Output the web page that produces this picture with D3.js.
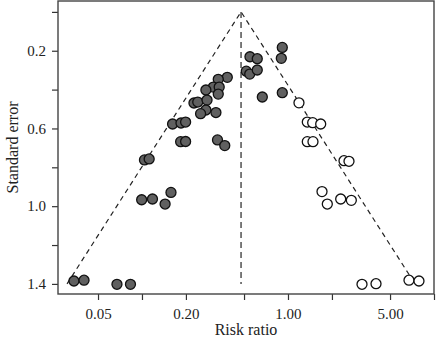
<!DOCTYPE html>
<html>
<head>
<meta charset="utf-8">
<script src="https://cdn.jsdelivr.net/npm/d3@7"></script>
<style>
  body { margin: 0; background: #fff; }
  text { font-family: "Liberation Serif", "DejaVu Serif", serif; fill: #222; }
</style>
</head>
<body>
<svg id="chart"></svg>
<script>
// observed studies (filled) - risk ratio and standard error
const observedRR = [0.914, 0.900, 0.549, 0.616, 0.518, 0.547, 0.616, 0.384, 0.333, 0.308,
  0.338, 0.274, 0.333, 0.227, 0.241, 0.279, 0.274, 0.252, 0.321, 0.162,
  0.185, 0.199, 0.184, 0.199, 0.329, 0.369, 0.104, 0.112, 0.0995, 0.118,
  0.144, 0.158, 0.0342, 0.0401, 0.0674, 0.0834, 0.667, 0.914];
const observedSE = [0.183, 0.239, 0.231, 0.241, 0.305, 0.320, 0.299, 0.337, 0.347, 0.387,
  0.387, 0.402, 0.423, 0.469, 0.464, 0.454, 0.505, 0.524, 0.518, 0.577,
  0.572, 0.567, 0.668, 0.667, 0.659, 0.688, 0.762, 0.757, 0.967, 0.963,
  0.989, 0.929, 1.385, 1.381, 1.402, 1.402, 0.438, 0.416];

// imputed studies (open)
const imputedRR = [1.189, 1.356, 1.476, 1.675, 1.356, 1.483, 2.419, 2.617, 1.710, 1.859,
  2.296, 2.715, 3.213, 4.007, 6.74, 7.89];
const imputedSE = [0.468, 0.567, 0.570, 0.577, 0.668, 0.668, 0.766, 0.769, 0.925, 0.989,
  0.963, 0.970, 1.402, 1.399, 1.381, 1.385];

const pooledRR = 0.477;
const maxSE = 1.4;

const xTicks = [0.05, 0.1, 0.2, 0.5, 1, 2, 5, 10];
const xLabels = [0.05, 0.2, 1, 5];
const yTicks = [0, 0.2, 0.4, 0.6, 0.8, 1.0, 1.2, 1.4];
const yLabels = [0.2, 0.6, 1.0, 1.4];

const W = 436, H = 340;
const plot = { left: 58, right: 434, top: 1, bottom: 294 };

const svg = d3.select("#chart")
  .attr("width", W)
  .attr("height", H);

// SCALES
const x = d3.scaleLog()
  .domain([0.0266, 10])
  .range([plot.left, plot.right]);

const y = d3.scaleLinear()
  .domain([-0.056, 1.452])
  .range([plot.top, plot.bottom]);

// AXES
const xAxis = d3.axisBottom(x)
  .tickValues(xTicks)
  .tickSize(6)
  .tickFormat(d => xLabels.includes(d) ? d3.format(".2f")(d) : "");

const yAxis = d3.axisLeft(y)
  .tickValues(yTicks)
  .tickSize(6)
  .tickFormat(d => yLabels.some(v => Math.abs(v - d) < 1e-9) ? d3.format(".1f")(d) : "");

const gx = svg.append("g")
  .attr("transform", `translate(0, ${plot.bottom})`)
  .call(xAxis);
gx.select(".domain").remove();
gx.selectAll("line").attr("stroke", "#333").attr("stroke-width", 1.2);
gx.selectAll("text").style("font-size", "15px").attr("dy", "1.05em");

const gy = svg.append("g")
  .attr("transform", `translate(${plot.left}, 0)`)
  .call(yAxis);
gy.select(".domain").remove();
gy.selectAll("line").attr("stroke", "#333").attr("stroke-width", 1.2);
gy.selectAll("text").style("font-size", "15px").attr("dx", "-0.2em");

// FRAME
svg.append("rect")
  .attr("x", plot.left)
  .attr("y", plot.top)
  .attr("width", plot.right - plot.left)
  .attr("height", plot.bottom - plot.top)
  .attr("fill", "none")
  .attr("stroke", "#444")
  .attr("stroke-width", 1.4);

// FUNNEL
const z = 1.96;
const funnel = [
  [pooledRR * Math.exp(-z * maxSE), maxSE],
  [pooledRR, 0],
  [pooledRR * Math.exp(z * maxSE), maxSE]
];

svg.append("path")
  .attr("d", d3.line().x(d => x(d[0])).y(d => y(d[1]))(funnel))
  .attr("fill", "none")
  .attr("stroke", "#222")
  .attr("stroke-width", 1.2)
  .attr("stroke-dasharray", "5,4");

svg.append("line")
  .attr("x1", x(pooledRR))
  .attr("x2", x(pooledRR))
  .attr("y1", y(0))
  .attr("y2", y(maxSE))
  .attr("stroke", "#444")
  .attr("stroke-width", 1.4)
  .attr("stroke-dasharray", "6,4");

// POINTS
const observed = observedRR.map((rr, i) => ({ rr: rr, se: observedSE[i] }));
const imputed = imputedRR.map((rr, i) => ({ rr: rr, se: imputedSE[i] }));

svg.append("g").selectAll("circle")
  .data(observed)
  .enter()
  .append("circle")
  .attr("cx", d => x(d.rr))
  .attr("cy", d => y(d.se))
  .attr("r", 5)
  .attr("fill", "#606060")
  .attr("stroke", "#111")
  .attr("stroke-width", 1.3);

svg.append("g").selectAll("circle")
  .data(imputed)
  .enter()
  .append("circle")
  .attr("cx", d => x(d.rr))
  .attr("cy", d => y(d.se))
  .attr("r", 5)
  .attr("fill", "#fff")
  .attr("stroke", "#111")
  .attr("stroke-width", 1.3);

// AXIS TITLES
svg.append("text")
  .attr("x", (plot.left + plot.right) / 2)
  .attr("y", 335)
  .attr("text-anchor", "middle")
  .style("font-size", "16px")
  .text("Risk ratio");

svg.append("text")
  .attr("transform", `translate(18, ${(plot.top + plot.bottom) / 2}) rotate(-90)`)
  .attr("text-anchor", "middle")
  .style("font-size", "16px")
  .text("Standard error");
</script>
</body>
</html>
